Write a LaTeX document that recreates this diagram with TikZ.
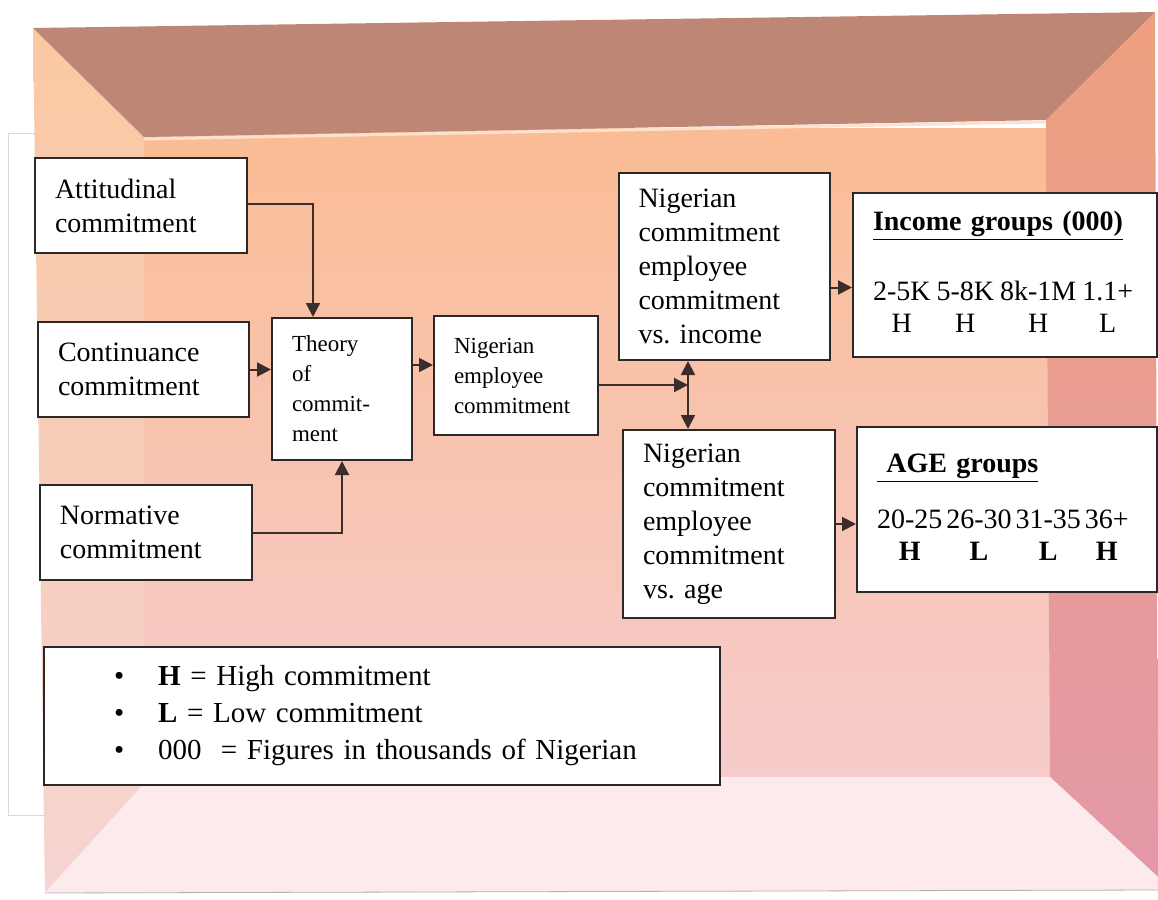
\documentclass[tikz,border=0pt]{standalone}
\usepackage{fontspec}
\setmainfont{Liberation Serif}
\usetikzlibrary{arrows.meta}
\definecolor{ceil}{RGB}{190,134,116}
\definecolor{backtop}{RGB}{250,188,148}
\definecolor{backbot}{RGB}{246,204,204}
\definecolor{lefttop}{RGB}{250,200,162}
\definecolor{leftbot}{RGB}{246,212,210}
\definecolor{righttop}{RGB}{238,160,126}
\definecolor{rightbot}{RGB}{228,152,168}
\definecolor{floorcol}{RGB}{252,234,236}
\definecolor{boxline}{RGB}{45,40,40}
\definecolor{linkcol}{RGB}{60,45,45}
\frenchspacing
\begin{document}
\begin{tikzpicture}[x=0.5pt,y=-0.5pt,>={Triangle[length=7pt,width=7pt]},box/.style={draw=boxline,line width=1pt,fill=white,align=left,inner xsep=10pt,font=\fontsize{14}{17}\selectfont},smallbox/.style={box,font=\fontsize{11.5}{15}\selectfont},link/.style={->,line width=1pt,draw=linkcol}]
\useasboundingbox[fill=white] (0,0) rectangle (1158,900);
\draw[black!15] (35,133)--(8,133)--(8,815)--(45,815);
\shade[top color=lefttop,bottom color=leftbot] (33,28)--(144,137)--(150,777)--(45,893)--cycle;
\shade[top color=backtop,bottom color=backbot] (144,128) rectangle (1052,778);
\shade[top color=righttop,bottom color=rightbot] (1046,120)--(1155,12)--(1158,877)--(1050,777)--cycle;
\fill[floorcol] (150,777)--(1050,777)--(1158,877)--(1158,890)--(45,893)--cycle;
\draw[black!30] (45,893)--(1158,890);
\fill[ceil] (33,28)--(1155,12)--(1046,120)--(144,137)--cycle;
\draw[line width=1.5pt,white!55!backtop] (144,139)--(1046,122);
\node[box,minimum width=106pt,minimum height=47.5pt,text width=86pt] (att) at (141,205.5) {Attitudinal\\commitment};
\node[box,minimum width=105.5pt,minimum height=47.5pt,text width=85.5pt] (cont) at (143.5,369.5) {Continuance\\commitment};
\node[box,minimum width=106pt,minimum height=47.5pt,text width=86pt] (norm) at (146,532.5) {Normative\\commitment};
\node[smallbox,minimum width=70pt,minimum height=71pt,text width=50pt] (theory) at (342,389) {Theory\\of\\commit-\\ment};
\node[smallbox,minimum width=82pt,minimum height=59.5pt,text width=62pt] (nec) at (516,375.5) {Nigerian\\employee\\commitment};
\node[box,minimum width=105.5pt,minimum height=93.5pt,text width=85.5pt] (vsinc) at (724,266.5) {Nigerian\\commitment\\employee\\commitment\\vs. income};
\node[box,minimum width=106pt,minimum height=94pt,text width=86pt] (vsage) at (729,524) {Nigerian\\commitment\\employee\\commitment\\vs. age};
\node[box,minimum width=152pt,minimum height=82pt,text width=132pt] (inc) at (1005,275) {\begin{tabular}{@{}c@{\hspace{3pt}}c@{\hspace{3pt}}c@{\hspace{3pt}}c@{}}\multicolumn{4}{@{}l@{}}{\textbf{\underline{Income groups (000)}}}\\[18pt]2-5K&5-8K&8k-1M&1.1+\\[-1pt]H&H&H&L\end{tabular}};
\node[box,minimum width=150pt,minimum height=82.5pt,text width=130pt] (age) at (1007,509.5) {\begin{tabular}{@{}c@{\hspace{2pt}}c@{\hspace{2pt}}c@{\hspace{2pt}}c@{}}\multicolumn{4}{@{}l@{}}{\textbf{\underline{\ AGE groups}}}\\[11pt]20-25&26-30&31-35&36+\\[-1pt]\textbf{H}&\textbf{L}&\textbf{L}&\textbf{H}\end{tabular}};
\node[box,inner xsep=35pt,text width=268pt,minimum height=69pt,font=\fontsize{14.5}{18.5}\selectfont] (key) at (382,716) {\textbullet\hspace{17pt}\textbf{H} = High commitment\\\textbullet\hspace{17pt}\textbf{L} = Low commitment\\\textbullet\hspace{17pt}000\ \ = Figures in thousands of Nigerian};
\coordinate (jn) at (688,385);
\draw[link] ([yshift=1pt]att.east) -| ([xshift=-14.5pt]theory.north);
\draw[link] (cont.east) -- (cont.east -| theory.west);
\draw[link] (norm.east) -| (theory.south);
\draw[link] ([yshift=12pt]theory.east) -- ([yshift=12pt]theory.east -| nec.west);
\draw[link] (jn -| nec.east) -- (jn);
\draw[link,<->] (vsinc.south -| jn) -- (vsage.north -| jn);
\draw[link] ([yshift=-10.5pt]vsinc.east) -- ([yshift=-10.5pt]vsinc.east -| inc.west);
\draw[link] (vsage.east) -- (vsage.east -| age.west);
\end{tikzpicture}
\end{document}
